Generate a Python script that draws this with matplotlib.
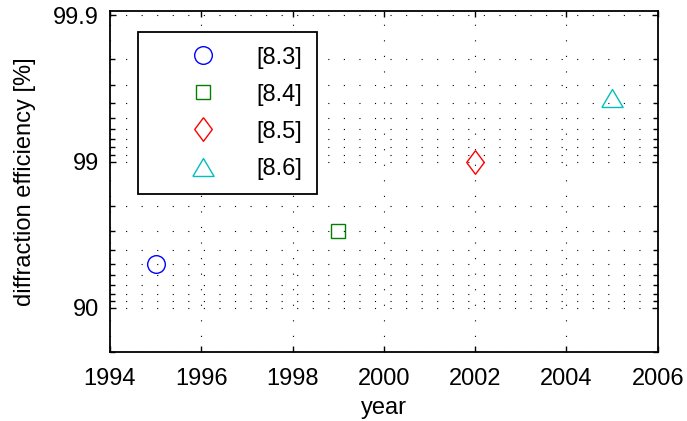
import matplotlib
matplotlib.use('Agg')
import matplotlib.pyplot as plt
from matplotlib.ticker import FixedLocator, NullFormatter

# data
years = [1995, 1999, 2002, 2005]
efficiency = [95.0, 97.0, 99.0, 99.63]
labels = ['[8.3]', '[8.4]', '[8.5]', '[8.6]']
colors = ['#0000ff', '#008000', '#ff0000', '#00bfbf']

ytick_vals = [90, 99, 99.9]
xtick_vals = [1994, 1996, 1998, 2000, 2002, 2004, 2006]

# marker shapes (matlab style)
diamond = [(0, 1), (0.745, 0), (0, -1), (-0.745, 0), (0, 1)]
triangle = [(-1, -0.845), (1, -0.845), (0, 0.845), (-1, -0.845)]
markers = ['o', 's', diamond, triangle]
sizes = [12.7, 10.3, 17.0, 15.3]

plt.rcParams['font.family'] = ['Liberation Sans', 'DejaVu Sans']
plt.rcParams['font.size'] = 17

fig = plt.figure(figsize=(6.87, 4.21), dpi=100)
ax = fig.add_axes([0.1601, 0.1632, 0.7973, 0.8114])

for i in range(len(years)):
    ax.plot([years[i]], [100 - efficiency[i]], linestyle='none',
            marker=markers[i], markersize=sizes[i], markerfacecolor='none',
            markeredgecolor=colors[i], markeredgewidth=1.0, label=labels[i])

ax.set_yscale('log')
ax.set_ylim(20.1, 0.093)
ax.set_xlim(1994, 2006)

ax.yaxis.set_major_locator(FixedLocator([100 - v for v in ytick_vals]))
ax.set_yticklabels([('%g' % v) for v in ytick_vals])
minor = []
for d in [0.01, 0.1, 1.0, 10.0]:
    for k in range(2, 10):
        minor.append(k * d)
ax.yaxis.set_minor_locator(FixedLocator(minor))
ax.yaxis.set_minor_formatter(NullFormatter())
ax.set_xticks(xtick_vals)

dots = (0, (1, 13))
ax.grid(True, which='major', axis='x', color='k', linestyle=dots, linewidth=0.8)
ax.grid(True, which='both', axis='y', color='k', linestyle=dots, linewidth=0.8)

ax.tick_params(which='both', direction='in', top=True, right=True, width=1.0)
ax.tick_params(which='major', length=4)
ax.tick_params(axis='x', which='major', pad=11)
ax.tick_params(axis='y', which='major', pad=8)
ax.tick_params(which='minor', length=3.5)
for s in ax.spines.values():
    s.set_linewidth(1.3)

ax.set_xlabel('year', labelpad=5)
ax.set_ylabel('diffraction efficiency [%]', labelpad=12)

leg = ax.legend(loc='upper left', bbox_to_anchor=(0.051, 0.938), fancybox=False,
                framealpha=1, edgecolor='k', handlelength=4.3, handletextpad=0.1,
                labelspacing=0.64, borderpad=0.62, borderaxespad=0)
leg.get_frame().set_linewidth(1.3)

fig.savefig('out.png', dpi=100)
